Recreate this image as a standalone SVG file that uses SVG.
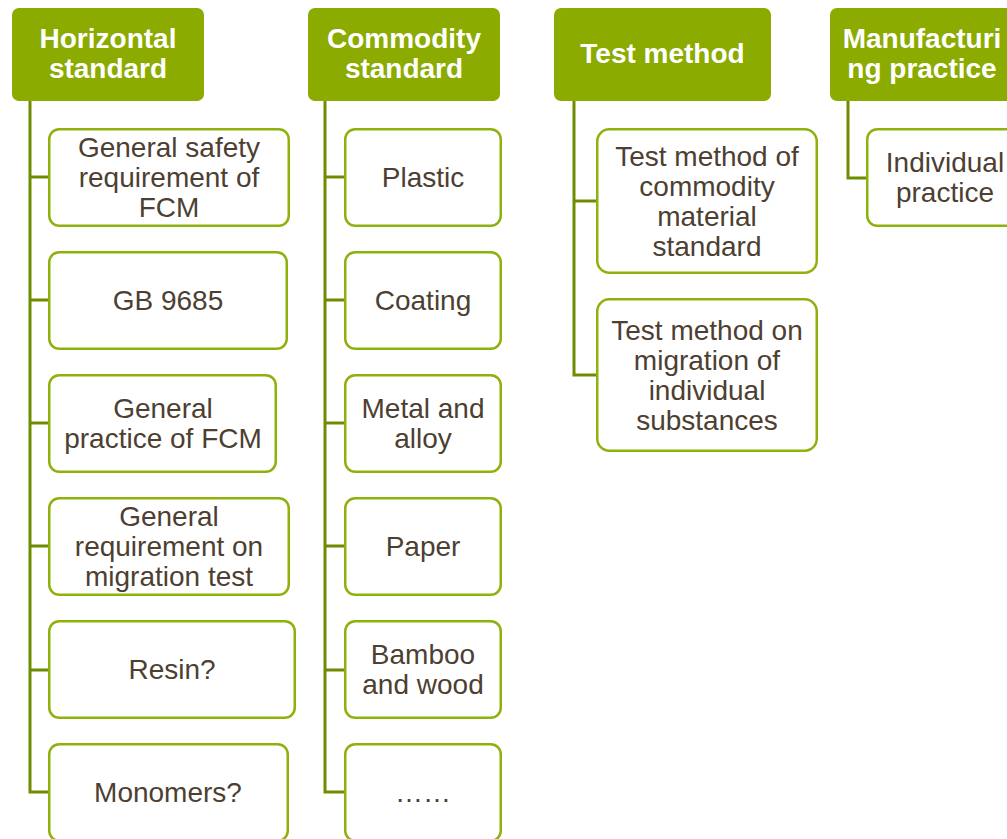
<svg xmlns="http://www.w3.org/2000/svg" width="1007" height="839" viewBox="0 0 1007 839">
<style>
.hdr{fill:#8cab00}
.ht{font-family:"Liberation Sans",Arial,sans-serif;font-size:28px;font-weight:bold;fill:#ffffff;text-anchor:middle}
.box{fill:#ffffff;stroke:#8fb10e;stroke-width:2.5}
.bt{font-family:"Liberation Sans",Arial,sans-serif;font-size:28px;fill:#4d3f32;text-anchor:middle}
.con{fill:none;stroke:#6f8c00;stroke-width:3}
</style>
<rect width="1007" height="839" fill="#ffffff"/>
<g id="connectors">
<path class="con" d="M30 101 V792 H48 M30 177 H48 M30 300 H48 M30 423 H48 M30 546 H48 M30 670 H48"/>
<path class="con" d="M325 101 V792 H344 M325 177 H344 M325 300 H344 M325 423 H344 M325 546 H344 M325 670 H344"/>
<path class="con" d="M574 101 V375 H596 M574 201 H596"/>
<path class="con" d="M848 101 V178 H866"/>
</g>
<g id="h1"><rect class="hdr" x="12" y="8" width="192" height="93" rx="7"/><text class="ht" x="108" y="48">Horizontal</text><text class="ht" x="108" y="78">standard</text></g>
<g id="h2"><rect class="hdr" x="308" y="8" width="192" height="93" rx="7"/><text class="ht" x="404" y="48">Commodity</text><text class="ht" x="404" y="78">standard</text></g>
<g id="h3"><rect class="hdr" x="554" y="8" width="217" height="93" rx="7"/><text class="ht" x="662.5" y="63">Test method</text></g>
<g id="h4"><rect class="hdr" x="830" y="8" width="184" height="93" rx="7"/><text class="ht" x="922" y="48">Manufacturi</text><text class="ht" x="922" y="78">ng practice</text></g>
<g id="a1"><rect class="box" x="49.25" y="129.25" width="239.5" height="96.5" rx="10"/><text class="bt" x="169" y="157">General safety</text><text class="bt" x="169" y="187">requirement of</text><text class="bt" x="169" y="217">FCM</text></g>
<g id="a2"><rect class="box" x="49.25" y="252.25" width="237.5" height="96.5" rx="10"/><text class="bt" x="168" y="310">GB 9685</text></g>
<g id="a3"><rect class="box" x="49.25" y="375.25" width="226.5" height="96.5" rx="10"/><text class="bt" x="163" y="418">General</text><text class="bt" x="163" y="448">practice of FCM</text></g>
<g id="a4"><rect class="box" x="49.25" y="498.25" width="239.5" height="96.5" rx="10"/><text class="bt" x="169" y="526">General</text><text class="bt" x="169" y="556">requirement on</text><text class="bt" x="169" y="586">migration test</text></g>
<g id="a5"><rect class="box" x="49.25" y="621.25" width="245.5" height="96.5" rx="10"/><text class="bt" x="172" y="679">Resin?</text></g>
<g id="a6"><rect class="box" x="49.25" y="744.25" width="238.5" height="96.5" rx="10"/><text class="bt" x="168" y="802">Monomers?</text></g>
<g id="b1"><rect class="box" x="345.25" y="129.25" width="155.5" height="96.5" rx="10"/><text class="bt" x="423" y="187">Plastic</text></g>
<g id="b2"><rect class="box" x="345.25" y="252.25" width="155.5" height="96.5" rx="10"/><text class="bt" x="423" y="310">Coating</text></g>
<g id="b3"><rect class="box" x="345.25" y="375.25" width="155.5" height="96.5" rx="10"/><text class="bt" x="423" y="418">Metal and</text><text class="bt" x="423" y="448">alloy</text></g>
<g id="b4"><rect class="box" x="345.25" y="498.25" width="155.5" height="96.5" rx="10"/><text class="bt" x="423" y="556">Paper</text></g>
<g id="b5"><rect class="box" x="345.25" y="621.25" width="155.5" height="96.5" rx="10"/><text class="bt" x="423" y="664">Bamboo</text><text class="bt" x="423" y="694">and wood</text></g>
<g id="b6"><rect class="box" x="345.25" y="744.25" width="155.5" height="96.5" rx="10"/><text class="bt" x="423" y="802">……</text></g>
<g id="c1"><rect class="box" x="597.25" y="129.25" width="219.5" height="143.5" rx="12"/><text class="bt" x="707" y="166">Test method of</text><text class="bt" x="707" y="196">commodity</text><text class="bt" x="707" y="226">material</text><text class="bt" x="707" y="256">standard</text></g>
<g id="c2"><rect class="box" x="597.25" y="299.25" width="219.5" height="151.5" rx="12"/><text class="bt" x="707" y="340">Test method on</text><text class="bt" x="707" y="370">migration of</text><text class="bt" x="707" y="400">individual</text><text class="bt" x="707" y="430">substances</text></g>
<g id="d1"><rect class="box" x="867.25" y="129.25" width="156.5" height="96.5" rx="10"/><text class="bt" x="945" y="172">Individual</text><text class="bt" x="945" y="202">practice</text></g>
</svg>
